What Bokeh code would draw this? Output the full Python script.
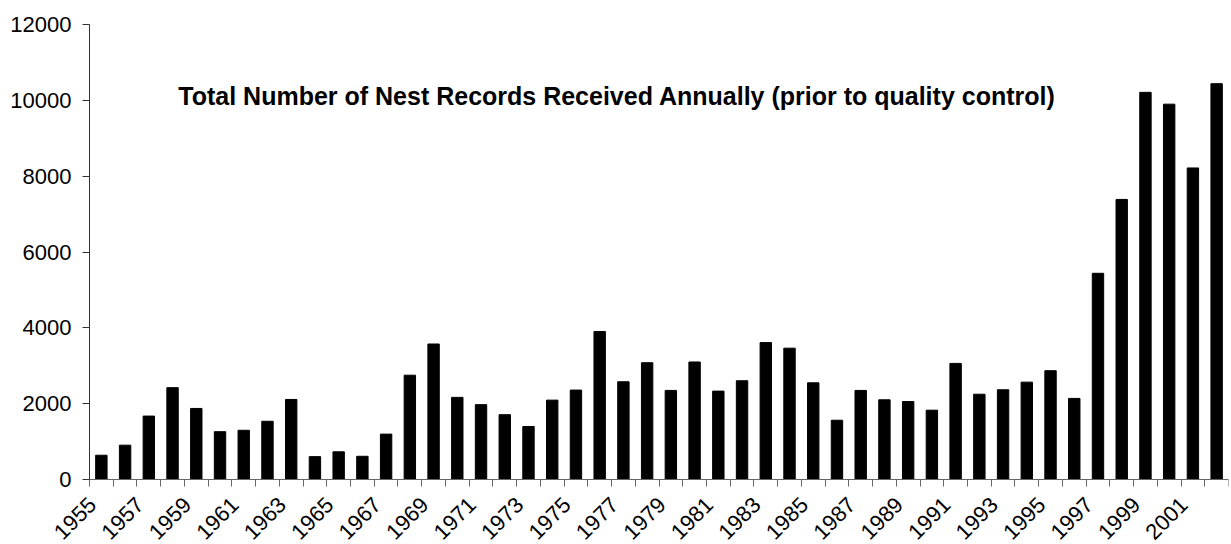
import math
from bokeh.plotting import figure
from bokeh.models import ColumnDataSource, FixedTicker, Label, Range1d
from bokeh.core.properties import value
from bokeh.embed import file_html
from bokeh.resources import INLINE

# ---- data ----
years = list(range(1955, 2003))
records = [640, 905, 1673, 2422, 1874, 1261, 1298, 1536, 2111, 603,
           731, 612, 1197, 2751, 3574, 2166, 1974, 1709, 1398, 2093,
           2358, 3903, 2578, 3080, 2349, 3099, 2331, 2605, 3611, 3464,
           2550, 1563, 2349, 2102, 2056, 1828, 3062, 2249, 2367, 2568,
           2870, 2139, 5438, 7386, 10210, 9899, 8217, 10439]
label_years = [y for y in years if (y - 1955) % 2 == 0]
y_ticks = [0, 2000, 4000, 6000, 8000, 10000, 12000]
title_text = "Total Number of Nest Records Received Annually (prior to quality control)"

FONT = "Liberation Sans"

# layout (pixels)
W, H = 1231, 544
RIGHT = 3
AXIS_X = 89                       # pixel column of the value axis
AXIS_Y = 479                      # pixel row of the value-0 axis
TOP_Y = 24                        # pixel row of the 12000 tick
Y_MAX = 12000
x_lo, x_hi = years[0] - 0.5, years[-1] + 0.5
px_per_year = (W - RIGHT - AXIS_X) / (x_hi - x_lo)
x_start = x_lo - AXIS_X / px_per_year          # frame covers the label margins too
px_per_unit = (AXIS_Y - TOP_Y) / Y_MAX
y_start = -(H - AXIS_Y) / px_per_unit
y_end = Y_MAX + TOP_Y / px_per_unit

p = figure(width=W, height=H, output_backend="svg", toolbar_location=None,
           x_range=Range1d(x_start, x_hi),
           y_range=Range1d(y_start, y_end),
           min_border_left=0, min_border_top=0, min_border_right=RIGHT,
           min_border_bottom=0)
p.outline_line_color = None
p.grid.visible = False
p.background_fill_color = "white"
p.border_fill_color = "white"

src = ColumnDataSource(dict(x=years, top=records))
p.vbar(x="x", top="top", width=0.48, source=src, fill_color="black", line_color="black")

# x axis at value 0: tick marks between categories only
xa = p.xaxis[0]
xa.fixed_location = 0
xa.bounds = (x_lo, x_hi)
xa.ticker = FixedTicker(ticks=[], minor_ticks=[y - 0.5 for y in years] + [x_hi])
xa.axis_line_color = "#666666"
xa.minor_tick_line_color = "#666666"
xa.minor_tick_out = 7
xa.minor_tick_in = 0
xa.major_tick_out = 0
xa.major_tick_in = 0
xa.major_label_standoff = 0
xa.major_label_text_font_size = "0px"

# rotated year labels
lab_src = ColumnDataSource(dict(x=label_years, y=[0] * len(label_years),
                                text=[str(y) for y in label_years]))
p.text(x="x", y="y", text="text", source=lab_src, angle=math.pi / 4,
       text_align="right", text_baseline="middle", x_offset=-9, y_offset=21.5,
       text_font=value(FONT), text_font_size=value("22px"), text_color="black")

ya = p.yaxis[0]
ya.fixed_location = x_lo
ya.ticker = FixedTicker(ticks=y_ticks)
ya.bounds = (0, Y_MAX)
ya.minor_tick_line_color = None
ya.major_tick_out = 7
ya.major_tick_in = 0
ya.major_label_standoff = 11
ya.major_label_text_font = FONT
ya.major_label_text_font_size = "22px"
ya.major_label_text_color = "black"
ya.axis_line_color = "#333333"
ya.major_tick_line_color = "#333333"

title = Label(x=1976.73, y=10110, text=title_text, text_align="center",
              text_baseline="alphabetic", text_font=FONT, text_font_size="25px",
              text_font_style="bold", text_color="black")
p.add_layout(title)

open("out.html", "w").write(file_html(p, INLINE))
